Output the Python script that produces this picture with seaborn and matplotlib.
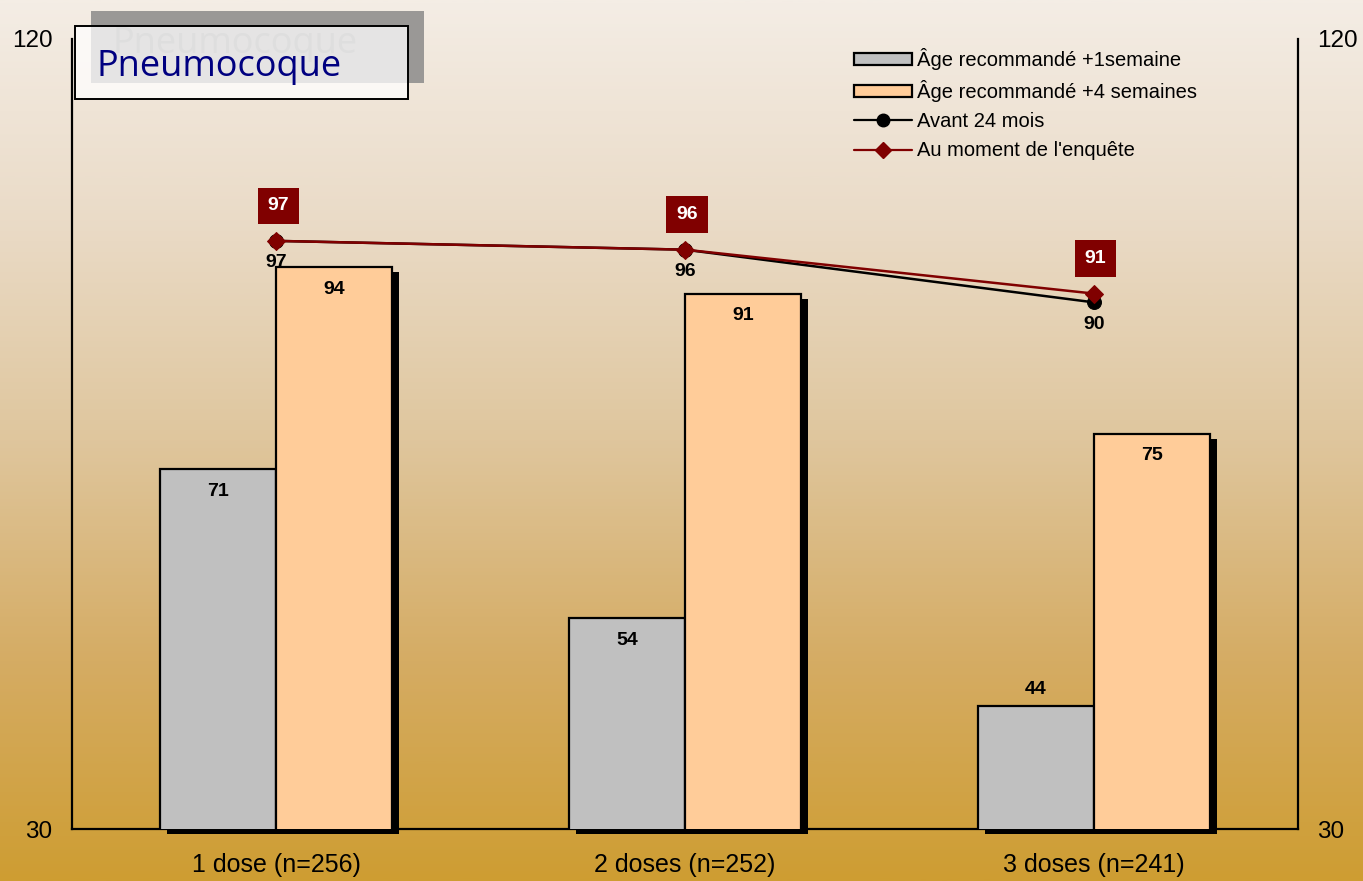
import numpy as np
import pandas as pd
import matplotlib
matplotlib.use("Agg")
import matplotlib.pyplot as plt
from matplotlib.patches import Rectangle, Patch
from matplotlib.lines import Line2D
from matplotlib.colors import LinearSegmentedColormap
import seaborn as sns

# ---- data ----
categories = ["1 dose (n=256)", "2 doses (n=252)", "3 doses (n=241)"]
series_names = ["Âge recommandé +1semaine", "Âge recommandé +4 semaines"]
age_1sem = [71, 54, 44]
age_4sem = [94, 91, 75]
avant_24 = [97, 96, 90]
moment_enquete = [97, 96, 91]
line_names = ["Avant 24 mois", "Au moment de l'enquête"]
title = "Pneumocoque"
y_ticks = [30, 120]

sns.set_style("ticks")
plt.rcParams['font.family'] = ['Liberation Sans', 'DejaVu Sans']
plt.rcParams['text.color'] = 'black'
plt.rcParams['xtick.color'] = 'black'
plt.rcParams['ytick.color'] = 'black'
plt.rcParams['xtick.labelcolor'] = 'black'
plt.rcParams['ytick.labelcolor'] = 'black'

W, H = 1363, 881
fig = plt.figure(figsize=(W / 100, H / 100), dpi=100)

# background gradient
bg = fig.add_axes([0, 0, 1, 1], zorder=0)
stops = [(0.0, (244, 237, 229)), (0.25, (234, 219, 199)), (0.5, (223, 198, 157)),
         (0.75, (213, 172, 100)), (1.0, (206, 157, 50))]
cmap = LinearSegmentedColormap.from_list("bg", [(p, tuple(c / 255 for c in col)) for p, col in stops])
grad = np.linspace(0, 1, 512).reshape(-1, 1)
bg.imshow(grad, aspect="auto", cmap=cmap, extent=[0, 1, 0, 1], origin="upper")
bg.set_axis_off()

ax = fig.add_axes([72 / W, 1 - 829 / H, (1298 - 72) / W, (829 - 39) / H], zorder=1)
ax.patch.set_alpha(0)

df = pd.DataFrame({
    "cat": categories * 2,
    "val": age_1sem + age_4sem,
    "serie": [series_names[0]] * 3 + [series_names[1]] * 3,
})
gray, orange = "#c0c0c0", "#ffcc99"
sns.barplot(data=df, x="cat", y="val", hue="serie", palette=[gray, orange],
            width=0.567, edgecolor="black", linewidth=1.6, legend=False, ax=ax,
            zorder=3, saturation=1)

ymin, ymax = 30, 120
ax.set_ylim(ymin, ymax)
ax.set_xlim(-0.5, 2.5)
px_per_x = (1298 - 72) / 3.0
px_per_y = (829 - 39) / (ymax - ymin)

# shadows & bar labels
for p in list(ax.patches):
    x0, w, h = p.get_x(), p.get_width(), p.get_height()
    dx = 7 / px_per_x
    dy = 5 / px_per_y
    ax.add_patch(Rectangle((x0 + dx, ymin - dy), w, h - ymin, facecolor="black",
                           edgecolor="none", zorder=2, clip_on=False))
    if h > 50:
        ax.text(x0 + w / 2, h - 22 / px_per_y, f"{h:.0f}", ha="center", va="center",
                fontsize=14, fontweight="bold", zorder=6)
    else:
        ax.text(x0 + w / 2, h + 17 / px_per_y, f"{h:.0f}", ha="center", va="center",
                fontsize=14, fontweight="bold", zorder=6)

xpos = np.arange(len(categories))
red = "#800000"
sns.lineplot(x=xpos, y=avant_24, color="black", marker="o", markersize=10,
             markeredgecolor="black", linewidth=1.8, ax=ax, zorder=4)
sns.lineplot(x=xpos, y=moment_enquete, color=red, marker="D", markersize=9,
             markeredgecolor=red, linewidth=1.8, ax=ax, zorder=5)

for x, v in zip(xpos, avant_24):
    ax.text(x, v - 22 / px_per_y, f"{v}", ha="center", va="center",
            fontsize=14, fontweight="bold", zorder=6)
for x, v in zip(xpos, moment_enquete):
    ax.text(x + 2 / px_per_x, v + 35 / px_per_y, f"{v}", ha="center", va="center",
            fontsize=14, fontweight="bold", color="white", zorder=6,
            bbox=dict(boxstyle="square,pad=0.5", facecolor=red, edgecolor="none"))

# axes styling
ax.spines["top"].set_visible(False)
for s in ["left", "right", "bottom"]:
    ax.spines[s].set_color("black")
    ax.spines[s].set_linewidth(1.6)
ax.set_yticks(y_ticks)
ax.tick_params(axis="y", length=0, pad=14, labelsize=17.5, labelleft=True, labelright=True)
ax.tick_params(axis="x", length=0, pad=17, labelsize=18)
ax.set_xlabel("")
ax.set_ylabel("")

# legend
handles = [
    Patch(facecolor=gray, edgecolor="black", linewidth=1.6),
    Patch(facecolor=orange, edgecolor="black", linewidth=1.6),
    Line2D([0], [0], color="black", marker="o", markersize=9, linewidth=1.6),
    Line2D([0], [0], color=red, marker="D", markersize=8, linewidth=1.6),
]
fig.legend(handles, series_names + line_names, loc="upper left",
           bbox_to_anchor=(846 / W, 1 - 40 / H), bbox_transform=fig.transFigure,
           frameon=False, fontsize=14.5, handlelength=2.9, handleheight=0.6,
           handletextpad=0.25, labelspacing=0.5, borderaxespad=0)

# title box
fig.add_artist(Rectangle((91 / W, 1 - 83 / H), 333 / W, 72 / H, transform=fig.transFigure,
                         facecolor="#9a9896", edgecolor="none", zorder=10))
fig.add_artist(Rectangle((75 / W, 1 - 99 / H), 333 / W, 73 / H, transform=fig.transFigure,
                         facecolor="white", alpha=0.75, edgecolor="none", zorder=11))
fig.add_artist(Rectangle((75 / W, 1 - 99 / H), 333 / W, 73 / H, transform=fig.transFigure,
                         facecolor="none", edgecolor="black", linewidth=1.4, zorder=12))
fig.text(113 / W, 1 - 44 / H, title, ha="left", va="center", fontsize=26,
         color="#dedede", family=["Open Sans", "DejaVu Sans"], zorder=12)
fig.text(96 / W, 1 - 67 / H, title, ha="left", va="center", fontsize=26,
         color="#000080", family=["Open Sans", "DejaVu Sans"], zorder=13)

fig.savefig("out.png", dpi=100)
